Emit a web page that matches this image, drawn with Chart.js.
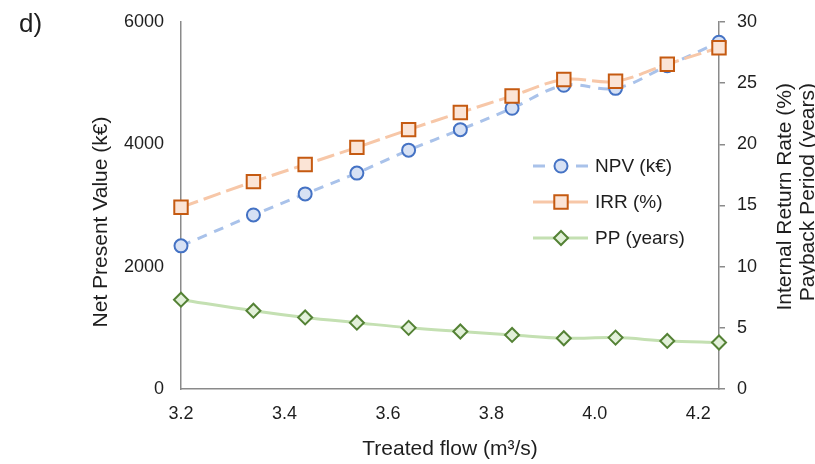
<!DOCTYPE html>
<html>
<head>
<meta charset="utf-8">
<script src="https://cdn.jsdelivr.net/npm/chart.js@4.4.0/dist/chart.umd.min.js"></script>
<style>
  html, body { margin: 0; padding: 0; background: #fff; }
</style>
</head>
<body>
<canvas id="myChart" width="815" height="464"></canvas>
<script>
/* Data */
const flow = [3.2, 3.34, 3.44, 3.54, 3.64, 3.74, 3.84, 3.94, 4.04, 4.14, 4.24]
const npv = [2340, 2845, 3190, 3530, 3905, 4240, 4590, 4965, 4915, 5285, 5670]
const irr = [14.85, 16.95, 18.35, 19.75, 21.2, 22.6, 23.95, 25.3, 25.15, 26.55, 27.9]
const pp = [7.3, 6.4, 5.85, 5.42, 5.0, 4.7, 4.42, 4.15, 4.2, 3.93, 3.8]

const xTicks = [3.2, 3.4, 3.6, 3.8, 4.0, 4.2]
const leftTicks = [0, 2000, 4000, 6000]
const rightTicks = [0, 5, 10, 15, 20, 25, 30]

const seriesNames = ['NPV (k€)', 'IRR (%)', 'PP (years)']
const leftTitle = 'Net Present Value (k€)'
const rightTitle = ['Internal Return Rate (%)', 'Payback Period (years)']
const xTitle = 'Treated flow (m³/s)'

const FONT = '"Liberation Sans", Arial, sans-serif'
const axisGrey = '#8a8a8a'
const textCol = '#1e1e1e'

/* series styles */
const styles = [
    { line: '#a9c2ea', edge: '#4472c4', fill: '#d7e1f4', shape: 'circle', r: 6.5, dash: [10, 8] },
    { line: '#f7c7a8', edge: '#c55a11', fill: '#fbe4d6', shape: 'rect', r: 9.5, dash: [18, 6] },
    { line: '#c4e0b2', edge: '#548235', fill: '#e2f0d9', shape: 'rectRot', r: 7, dash: [] }
]

function toPoints(values){
    return flow.map((x, i) => ({ x: x, y: values[i] }))
}

function makeDataset(i, values, axis){
    let s = styles[i]
    return {
        label: seriesNames[i],
        data: toPoints(values),
        yAxisID: axis,
        borderColor: s.line,
        borderWidth: 3,
        borderDash: s.dash,
        backgroundColor: s.fill,
        pointStyle: s.shape,
        pointRadius: s.r,
        pointHoverRadius: s.r,
        pointBorderColor: s.edge,
        pointBackgroundColor: s.fill,
        pointBorderWidth: 2,
        tension: 0.35,
        clip: false,
        order: 2 - i
    }
}

/* titles, panel letter and the legend box drawn on top */
const extras = {
    id: 'extras',
    afterDraw(chart){
        const ctx = chart.ctx
        ctx.save()
        ctx.fillStyle = textCol
        ctx.font = '26px ' + FONT
        ctx.textBaseline = 'alphabetic'
        ctx.textAlign = 'left'
        ctx.fillText('d)', 19, 32)

        ctx.font = '21px ' + FONT
        ctx.save()
        ctx.translate(101, 222)
        ctx.rotate(-Math.PI / 2)
        ctx.textAlign = 'center'
        ctx.textBaseline = 'middle'
        ctx.fillText(leftTitle, 0, 0)
        ctx.restore()

        rightTitle.forEach((t, i) => {
            ctx.save()
            ctx.translate(785 + i * 23, 83)
            ctx.rotate(-Math.PI / 2)
            ctx.textAlign = 'right'
            ctx.textBaseline = 'middle'
            ctx.fillText(t, 0, 0)
            ctx.restore()
        })

        // legend
        const rows = [166, 202, 238]
        const x0 = 533, x1 = 588, xm = 561
        ctx.font = '19px ' + FONT
        ctx.textAlign = 'left'
        ctx.textBaseline = 'middle'
        styles.forEach((s, i) => {
            let y = rows[i]
            ctx.save()
            ctx.strokeStyle = s.line
            ctx.lineWidth = 3
            if (i === 0) ctx.setLineDash([12, 31])
            ctx.beginPath()
            ctx.moveTo(x0, y)
            ctx.lineTo(x1, y)
            ctx.stroke()
            ctx.restore()

            ctx.save()
            ctx.fillStyle = s.fill
            ctx.strokeStyle = s.edge
            ctx.lineWidth = 2
            ctx.beginPath()
            if (s.shape === 'circle') {
                ctx.arc(xm, y, s.r, 0, Math.PI * 2)
            } else if (s.shape === 'rect') {
                let h = s.r * Math.SQRT1_2
                ctx.rect(xm - h, y - h, 2 * h, 2 * h)
            } else {
                ctx.moveTo(xm - s.r, y)
                ctx.lineTo(xm, y - s.r)
                ctx.lineTo(xm + s.r, y)
                ctx.lineTo(xm, y + s.r)
                ctx.closePath()
            }
            ctx.fill()
            ctx.stroke()
            ctx.restore()

            ctx.fillStyle = textCol
            ctx.fillText(seriesNames[i], 595, y + 1)
        })
        ctx.restore()
    }
}

function fitY(width){
    return (scale) => {
        scale.width = width
        scale.paddingTop = 0
        scale.paddingBottom = 0
    }
}

const ctx = document.getElementById('myChart').getContext('2d')
const myChart = new Chart(ctx, {
    type: 'line',
    data: {
        datasets: [
            makeDataset(0, npv, 'yL'),
            makeDataset(1, irr, 'yR'),
            makeDataset(2, pp, 'yR')
        ]
    },
    options: {
        responsive: false,
        animation: false,
        events: [],
        layout: { padding: { left: 0, right: 0, top: 22, bottom: 0 } },
        plugins: {
            legend: { display: false },
            tooltip: { enabled: false }
        },
        scales: {
            x: {
                type: 'linear',
                min: 3.2,
                max: 4.24,
                afterBuildTicks: (scale) => { scale.ticks = xTicks.map(v => ({ value: v })) },
                afterFit: (scale) => { scale.height = 75 },
                ticks: {
                    callback: (v) => Number(v).toFixed(1),
                    font: { family: FONT, size: 18 },
                    color: textCol,
                    padding: 14,
                    maxRotation: 0
                },
                grid: { display: false, drawTicks: false },
                border: { display: true, color: axisGrey, width: 1.5 },
                title: {
                    display: true,
                    text: xTitle,
                    font: { family: FONT, size: 21 },
                    color: textCol,
                    padding: { top: 0, bottom: 2 }
                }
            },
            yL: {
                type: 'linear',
                position: 'left',
                min: 0,
                max: 6000,
                afterBuildTicks: (scale) => { scale.ticks = leftTicks.map(v => ({ value: v })) },
                afterFit: fitY(181),
                ticks: {
                    callback: (v) => String(v),
                    font: { family: FONT, size: 18 },
                    color: textCol,
                    padding: 17
                },
                grid: { display: false, drawTicks: false },
                border: { display: true, color: axisGrey, width: 1.5 }
            },
            yR: {
                type: 'linear',
                position: 'right',
                min: 0,
                max: 30,
                afterBuildTicks: (scale) => { scale.ticks = rightTicks.map(v => ({ value: v })) },
                afterFit: fitY(96),
                ticks: {
                    callback: (v) => String(v),
                    font: { family: FONT, size: 18 },
                    color: textCol,
                    padding: 12
                },
                grid: { drawOnChartArea: false, drawTicks: true, tickLength: 6, color: axisGrey, lineWidth: 1.5 },
                border: { display: true, color: axisGrey, width: 1.5 }
            }
        }
    },
    plugins: [extras]
})
</script>
</body>
</html>
